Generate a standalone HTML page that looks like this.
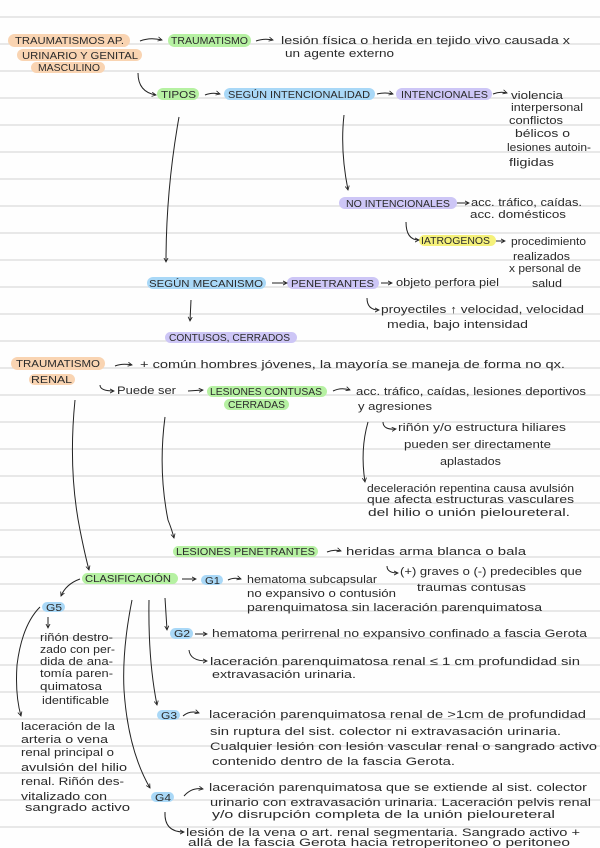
<!DOCTYPE html>
<html><head><meta charset="utf-8"><style>
html,body{margin:0;padding:0;background:#fefefe;}
svg{display:block;}
text{font-family:"Liberation Sans",sans-serif;fill:#2a2a2a;}
.c{font-size:10px;}
.t{font-size:11px;}
.l{stroke:#dadada;stroke-width:1.3;}
.ar{fill:none;stroke:#222;stroke-width:1;marker-end:url(#a);}
.ln{fill:none;stroke:#222;stroke-width:1;}
</style></head><body>
<svg width="600" height="848" viewBox="0 0 600 848" xmlns="http://www.w3.org/2000/svg">
<defs><marker id="a" viewBox="0 0 6 6" refX="5" refY="3" markerWidth="5" markerHeight="5" orient="auto"><path d="M0,0.5 L5,3 L0,5.5" fill="none" stroke="#222" stroke-width="1"/></marker></defs>
<rect width="600" height="848" fill="#fefefe"/>
<g class="l">
<line x1="0" x2="600" y1="17" y2="17"/><line x1="0" x2="600" y1="44" y2="44"/><line x1="0" x2="600" y1="71" y2="71"/><line x1="0" x2="600" y1="98" y2="98"/><line x1="0" x2="600" y1="125" y2="125"/><line x1="0" x2="600" y1="152" y2="152"/><line x1="0" x2="600" y1="179" y2="179"/><line x1="0" x2="600" y1="206" y2="206"/><line x1="0" x2="600" y1="233" y2="233"/><line x1="0" x2="600" y1="260" y2="260"/><line x1="0" x2="600" y1="287" y2="287"/><line x1="0" x2="600" y1="314" y2="314"/><line x1="0" x2="600" y1="341" y2="341"/><line x1="0" x2="600" y1="368" y2="368"/><line x1="0" x2="600" y1="395" y2="395"/><line x1="0" x2="600" y1="422" y2="422"/><line x1="0" x2="600" y1="449" y2="449"/><line x1="0" x2="600" y1="476" y2="476"/><line x1="0" x2="600" y1="503" y2="503"/><line x1="0" x2="600" y1="530" y2="530"/><line x1="0" x2="600" y1="557" y2="557"/><line x1="0" x2="600" y1="584" y2="584"/><line x1="0" x2="600" y1="611" y2="611"/><line x1="0" x2="600" y1="638" y2="638"/><line x1="0" x2="600" y1="665" y2="665"/><line x1="0" x2="600" y1="692" y2="692"/><line x1="0" x2="600" y1="719" y2="719"/><line x1="0" x2="600" y1="746" y2="746"/><line x1="0" x2="600" y1="773" y2="773"/><line x1="0" x2="600" y1="800" y2="800"/><line x1="0" x2="600" y1="827" y2="827"/>
</g>
<!-- pills -->
<g>
<rect x="8" y="34" width="122" height="13" rx="6.5" fill="#f9d4b2"/>
<rect x="17" y="49" width="125" height="12" rx="6" fill="#f9d4b2"/>
<rect x="31" y="62" width="74" height="11" rx="5.5" fill="#f9d4b2"/>
<rect x="168" y="34" width="83" height="13" rx="6.5" fill="#b6f1a2"/>
<rect x="157" y="88" width="42" height="12" rx="6" fill="#b6f1a2"/>
<rect x="224" y="88" width="151" height="12" rx="6" fill="#a9d8f7"/>
<rect x="396" y="88" width="96" height="12" rx="6" fill="#cdc6f6"/>
<rect x="339" y="197" width="118" height="12" rx="6" fill="#cdc6f6"/>
<rect x="419" y="235" width="77" height="11" rx="5.5" fill="#f5f17a"/>
<rect x="147" y="277" width="119" height="12" rx="6" fill="#a9d8f7"/>
<rect x="287" y="277" width="92" height="12" rx="6" fill="#cdc6f6"/>
<rect x="165" y="332" width="132" height="11" rx="5.5" fill="#cdc6f6"/>
<rect x="11" y="357" width="94" height="13" rx="6.5" fill="#f9d4b2"/>
<rect x="29" y="374" width="46" height="11" rx="5.5" fill="#f9d4b2"/>
<rect x="207" y="386" width="120" height="11" rx="5.5" fill="#b6f1a2"/>
<rect x="224" y="399" width="65" height="11" rx="5.5" fill="#b6f1a2"/>
<rect x="173" y="546" width="145" height="11" rx="5.5" fill="#b6f1a2"/>
<rect x="82" y="573" width="96" height="11" rx="5.5" fill="#b6f1a2"/>
<rect x="201" y="575" width="22" height="10" rx="5" fill="#a9d8f7"/>
<rect x="42" y="602" width="23" height="10" rx="5" fill="#a9d8f7"/>
<rect x="170" y="628" width="23" height="11" rx="5.5" fill="#a9d8f7"/>
<rect x="157" y="710" width="23" height="10" rx="5" fill="#a9d8f7"/>
<rect x="151" y="792" width="23" height="10" rx="5" fill="#a9d8f7"/>
</g>
<!-- pill labels -->
<g class="c">
<text x="15" y="44" textLength="109" lengthAdjust="spacingAndGlyphs">TRAUMATISMOS AP.</text>
<text x="22" y="59" textLength="116" lengthAdjust="spacingAndGlyphs">URINARIO Y GENITAL</text>
<text x="38" y="71" textLength="62" lengthAdjust="spacingAndGlyphs">MASCULINO</text>
<text x="171" y="44" textLength="77" lengthAdjust="spacingAndGlyphs">TRAUMATISMO</text>
<text x="161" y="98" textLength="35" lengthAdjust="spacingAndGlyphs">TIPOS</text>
<text x="228" y="98" textLength="142" lengthAdjust="spacingAndGlyphs">SEGÚN INTENCIONALIDAD</text>
<text x="401" y="98" textLength="87" lengthAdjust="spacingAndGlyphs">INTENCIONALES</text>
<text x="346" y="207" textLength="104" lengthAdjust="spacingAndGlyphs">NO INTENCIONALES</text>
<text x="421" y="244" textLength="69" lengthAdjust="spacingAndGlyphs">IATROGENOS</text>
<text x="149" y="287" textLength="114" lengthAdjust="spacingAndGlyphs">SEGÚN MECANISMO</text>
<text x="291" y="287" textLength="83" lengthAdjust="spacingAndGlyphs">PENETRANTES</text>
<text x="169" y="341" textLength="121" lengthAdjust="spacingAndGlyphs">CONTUSOS, CERRADOS</text>
<text x="16" y="367" textLength="84" lengthAdjust="spacingAndGlyphs">TRAUMATISMO</text>
<text x="31" y="383" textLength="41" lengthAdjust="spacingAndGlyphs">RENAL</text>
<text x="210" y="395" textLength="112" lengthAdjust="spacingAndGlyphs">LESIONES CONTUSAS</text>
<text x="228" y="408" textLength="57" lengthAdjust="spacingAndGlyphs">CERRADAS</text>
<text x="176" y="555" textLength="139" lengthAdjust="spacingAndGlyphs">LESIONES PENETRANTES</text>
<text x="85" y="582" textLength="86" lengthAdjust="spacingAndGlyphs">CLASIFICACIÓN</text>
<text x="205" y="584" textLength="15" lengthAdjust="spacingAndGlyphs">G1</text>
<text x="46" y="611" textLength="16" lengthAdjust="spacingAndGlyphs">G5</text>
<text x="174" y="637" textLength="16" lengthAdjust="spacingAndGlyphs">G2</text>
<text x="161" y="719" textLength="16" lengthAdjust="spacingAndGlyphs">G3</text>
<text x="155" y="801" textLength="16" lengthAdjust="spacingAndGlyphs">G4</text>
</g>
<!-- body text -->
<g class="t">
<text x="281" y="44" textLength="289" lengthAdjust="spacingAndGlyphs">lesión física o herida en tejido vivo causada x</text>
<text x="285" y="57" textLength="109" lengthAdjust="spacingAndGlyphs">un agente externo</text>
<text x="511" y="99" textLength="52" lengthAdjust="spacingAndGlyphs">violencia</text>
<text x="511" y="111" textLength="72" lengthAdjust="spacingAndGlyphs">interpersonal</text>
<text x="509" y="124" textLength="54" lengthAdjust="spacingAndGlyphs">conflictos</text>
<text x="515" y="137" textLength="55" lengthAdjust="spacingAndGlyphs">bélicos o</text>
<text x="507" y="151" textLength="84" lengthAdjust="spacingAndGlyphs">lesiones autoin-</text>
<text x="509" y="166" textLength="45" lengthAdjust="spacingAndGlyphs">fligidas</text>
<text x="471" y="206" textLength="111" lengthAdjust="spacingAndGlyphs">acc. tráfico, caídas.</text>
<text x="470" y="218" textLength="96" lengthAdjust="spacingAndGlyphs">acc. domésticos</text>
<text x="511" y="245" textLength="75" lengthAdjust="spacingAndGlyphs">procedimiento</text>
<text x="513" y="260" textLength="57" lengthAdjust="spacingAndGlyphs">realizados</text>
<text x="509" y="272" textLength="72" lengthAdjust="spacingAndGlyphs">x personal de</text>
<text x="532" y="287" textLength="30" lengthAdjust="spacingAndGlyphs">salud</text>
<text x="396" y="286" textLength="103" lengthAdjust="spacingAndGlyphs">objeto perfora piel</text>
<text x="381" y="313" textLength="203" lengthAdjust="spacingAndGlyphs">proyectiles ↑ velocidad, velocidad</text>
<text x="387" y="328" textLength="141" lengthAdjust="spacingAndGlyphs">media, bajo intensidad</text>
<text x="140" y="368" textLength="425" lengthAdjust="spacingAndGlyphs">+ común hombres jóvenes, la mayoría se maneja de forma no qx.</text>
<text x="117" y="394" textLength="59" lengthAdjust="spacingAndGlyphs">Puede ser</text>
<text x="356" y="395" textLength="230" lengthAdjust="spacingAndGlyphs">acc. tráfico, caídas, lesiones deportivos</text>
<text x="358" y="410" textLength="74" lengthAdjust="spacingAndGlyphs">y agresiones</text>
<text x="398" y="431" textLength="168" lengthAdjust="spacingAndGlyphs">riñón y/o estructura hiliares</text>
<text x="404" y="448" textLength="147" lengthAdjust="spacingAndGlyphs">pueden ser directamente</text>
<text x="440" y="465" textLength="61" lengthAdjust="spacingAndGlyphs">aplastados</text>
<text x="367" y="492" textLength="207" lengthAdjust="spacingAndGlyphs">deceleración repentina causa avulsión</text>
<text x="367" y="503" textLength="207" lengthAdjust="spacingAndGlyphs">que afecta estructuras vasculares</text>
<text x="368" y="516" textLength="202" lengthAdjust="spacingAndGlyphs">del hilio o unión pieloureteral.</text>
<text x="346" y="555" textLength="180" lengthAdjust="spacingAndGlyphs">heridas arma blanca o bala</text>
<text x="400" y="575" textLength="182" lengthAdjust="spacingAndGlyphs">(+) graves o (-) predecibles que</text>
<text x="417" y="591" textLength="109" lengthAdjust="spacingAndGlyphs">traumas contusas</text>
<text x="247" y="583" textLength="130" lengthAdjust="spacingAndGlyphs">hematoma subcapsular</text>
<text x="247" y="597" textLength="149" lengthAdjust="spacingAndGlyphs">no expansivo o contusión</text>
<text x="247" y="611" textLength="295" lengthAdjust="spacingAndGlyphs">parenquimatosa sin laceración parenquimatosa</text>
<text x="212" y="637" textLength="375" lengthAdjust="spacingAndGlyphs">hematoma perirrenal no expansivo confinado a fascia Gerota</text>
<text x="210" y="665" textLength="370" lengthAdjust="spacingAndGlyphs">laceración parenquimatosa renal ≤ 1 cm profundidad sin</text>
<text x="212" y="678" textLength="144" lengthAdjust="spacingAndGlyphs">extravasación urinaria.</text>
<text x="40" y="641" textLength="73" lengthAdjust="spacingAndGlyphs">riñón destro-</text>
<text x="40" y="653" textLength="75" lengthAdjust="spacingAndGlyphs">zado con per-</text>
<text x="40" y="665" textLength="73" lengthAdjust="spacingAndGlyphs">dida de ana-</text>
<text x="40" y="677" textLength="73" lengthAdjust="spacingAndGlyphs">tomía paren-</text>
<text x="40" y="690" textLength="62" lengthAdjust="spacingAndGlyphs">quimatosa</text>
<text x="42" y="704" textLength="67" lengthAdjust="spacingAndGlyphs">identificable</text>
<text x="21" y="730" textLength="94" lengthAdjust="spacingAndGlyphs">laceración de la</text>
<text x="21" y="743" textLength="87" lengthAdjust="spacingAndGlyphs">arteria o vena</text>
<text x="21" y="756" textLength="93" lengthAdjust="spacingAndGlyphs">renal principal o</text>
<text x="21" y="771" textLength="106" lengthAdjust="spacingAndGlyphs">avulsión del hilio</text>
<text x="21" y="785" textLength="103" lengthAdjust="spacingAndGlyphs">renal. Riñón des-</text>
<text x="21" y="800" textLength="86" lengthAdjust="spacingAndGlyphs">vitalizado con</text>
<text x="25" y="811" textLength="105" lengthAdjust="spacingAndGlyphs">sangrado activo</text>
<text x="209" y="718" textLength="377" lengthAdjust="spacingAndGlyphs">laceración parenquimatosa renal de &gt;1cm de profundidad</text>
<text x="210" y="735" textLength="351" lengthAdjust="spacingAndGlyphs">sin ruptura del sist. colector ni extravasación urinaria.</text>
<text x="210" y="750" textLength="387" lengthAdjust="spacingAndGlyphs">Cualquier lesión con lesión vascular renal o sangrado activo</text>
<text x="212" y="765" textLength="243" lengthAdjust="spacingAndGlyphs">contenido dentro de la fascia Gerota.</text>
<text x="209" y="791" textLength="378" lengthAdjust="spacingAndGlyphs">laceración parenquimatosa que se extiende al sist. colector</text>
<text x="210" y="806" textLength="381" lengthAdjust="spacingAndGlyphs">urinario con extravasación urinaria. Laceración pelvis renal</text>
<text x="212" y="818" textLength="343" lengthAdjust="spacingAndGlyphs">y/o disrupción completa de la unión pieloureteral</text>
<text x="186" y="836" textLength="394" lengthAdjust="spacingAndGlyphs">lesión de la vena o art. renal segmentaria. Sangrado activo +</text>
<text x="188" y="846" textLength="382" lengthAdjust="spacingAndGlyphs">allá de la fascia Gerota hacia retroperitoneo o peritoneo</text>
</g>
<!-- arrows and connectors -->
<g>
<path class="ar" d="M140,41 Q150,37 162,40"/>
<path class="ar" d="M256,41 Q264,38 273,40"/>
<path class="ar" d="M138,73 Q138,92 156,95"/>
<path class="ar" d="M205,95 Q212,92 220,94"/>
<path class="ar" d="M377,94 Q385,92 393,94"/>
<path class="ar" d="M493,94 Q500,91 507,93"/>
<path class="ar" d="M179,117 Q166,190 166,262"/>
<path class="ar" d="M344,115 Q340,150 348,190"/>
<path class="ar" d="M457,203 L469,203"/>
<path class="ar" d="M406,222 Q406,240 419,240"/>
<path class="ar" d="M496,241 L505,241"/>
<path class="ar" d="M272,283 L287,283"/>
<path class="ar" d="M381,283 L392,283"/>
<path class="ar" d="M367,298 Q367,310 379,310"/>
<path class="ar" d="M191,300 L190,321"/>
<path class="ar" d="M115,366 Q122,363 132,365"/>
<path class="ar" d="M100,385 Q100,391 114,391"/>
<path class="ar" d="M188,391 L203,390"/>
<path class="ar" d="M333,391 Q341,387 350,390"/>
<path class="ar" d="M383,422 Q383,430 396,429"/>
<path class="ar" d="M368,422 Q360,450 365,482"/>
<path class="ar" d="M75,400 Q68,470 80,530 Q85,555 89,570"/>
<path class="ar" d="M165,417 Q158,470 168,520 Q172,530 174,538"/>
<path class="ar" d="M327,552 Q334,549 341,551"/>
<path class="ar" d="M387,566 Q387,573 398,573"/>
<path class="ar" d="M182,579 L196,579"/>
<path class="ar" d="M228,580 Q234,577 241,579"/>
<path class="ar" d="M80,579 Q66,584 61,596"/>
<path class="ar" d="M48,617 L48,628"/>
<path class="ar" d="M40,607 Q22,625 17,665 Q15,695 21,716"/>
<path class="ar" d="M132,600 Q122,650 124,690 Q128,750 150,788"/>
<path class="ar" d="M149,600 Q148,660 157,705"/>
<path class="ar" d="M165,598 L167,630"/>
<path class="ar" d="M195,634 L207,634"/>
<path class="ar" d="M189,650 Q190,661 207,661"/>
<path class="ar" d="M183,716 Q190,710 199,713"/>
<path class="ar" d="M184,796 Q192,787 203,789"/>
<path class="ar" d="M165,812 Q164,832 184,832"/>
</g>
</svg>
</body></html>
